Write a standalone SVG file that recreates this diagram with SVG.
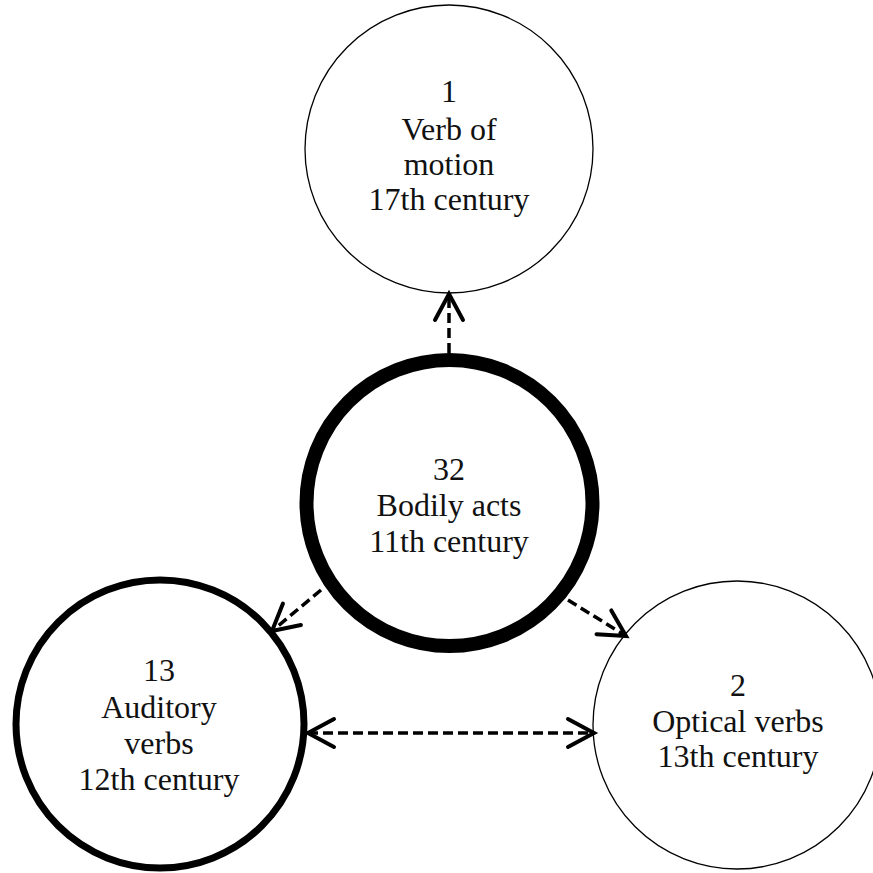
<svg xmlns="http://www.w3.org/2000/svg" width="873" height="873" viewBox="0 0 873 873">
<style>
.node{fill:#fff;stroke:#000}
.t{font-family:"Liberation Serif","Times New Roman",serif;font-size:32px;text-anchor:middle;fill:#111}
.c{fill:none;stroke:#000;stroke-width:3.5;stroke-dasharray:10,5}
</style>
<defs>
<marker id="ah" markerUnits="userSpaceOnUse" markerWidth="40" markerHeight="40" viewBox="-32 -20 40 40" refX="0" refY="0" orient="auto-start-reverse" overflow="visible">
<path d="M-26,-14 L0,0 L-26,14" fill="none" stroke="#000" stroke-width="4" stroke-dasharray="none" stroke-linecap="round" stroke-linejoin="miter"/>
</marker>
</defs>
<rect width="873" height="873" fill="#fff"/>
<g id="n1">
<circle class="node" cx="449" cy="149" r="144" stroke-width="1.3"/>
<text class="t" x="449" y="102">1</text>
<text class="t" x="449" y="140">Verb of</text>
<text class="t" x="449" y="175">motion</text>
<text class="t" x="449" y="210">17th century</text>
</g>
<g id="n32">
<circle class="node" cx="449.5" cy="503" r="143" stroke-width="14"/>
<text class="t" x="449" y="480">32</text>
<text class="t" x="449" y="516">Bodily acts</text>
<text class="t" x="449" y="552">11th century</text>
</g>
<g id="n13">
<circle class="node" cx="160" cy="724" r="144" stroke-width="7"/>
<text class="t" x="159" y="681">13</text>
<text class="t" x="159" y="718">Auditory</text>
<text class="t" x="159" y="754">verbs</text>
<text class="t" x="159" y="790">12th century</text>
</g>
<g id="n2">
<circle class="node" cx="737" cy="725" r="144" stroke-width="1.3"/>
<text class="t" x="738" y="696">2</text>
<text class="t" x="738" y="732">Optical verbs</text>
<text class="t" x="738" y="767">13th century</text>
</g>
<g id="connectors">
<line class="c" x1="449" y1="353" x2="449" y2="294" marker-end="url(#ah)"/>
<line class="c" x1="321" y1="590" x2="272" y2="631" marker-end="url(#ah)"/>
<line class="c" x1="568" y1="600" x2="626" y2="636" marker-end="url(#ah)"/>
<line class="c" x1="308" y1="733" x2="594" y2="733" marker-start="url(#ah)" marker-end="url(#ah)"/>
</g>
</svg>
